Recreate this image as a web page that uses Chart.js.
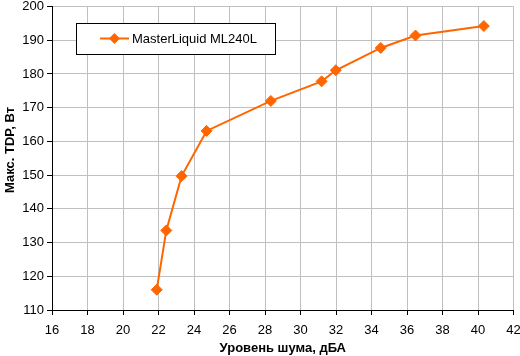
<!DOCTYPE html>
<html><head><meta charset="utf-8">
<script src="https://cdn.jsdelivr.net/npm/chart.js@4/dist/chart.umd.min.js"></script>
<style>html,body{margin:0;padding:0;background:#fff}#wrap{width:520px;height:356px}</style>
</head><body><div id="wrap"><canvas id="c" width="520" height="356"></canvas></div>
<script>
const seriesName = "MasterLiquid ML240L";
const noise = [21.9, 22.44, 23.3, 24.71, 28.33, 31.19, 31.99, 34.52, 36.48, 40.33];
const tdp = [116, 133.6, 149.7, 163.1, 172.0, 177.8, 181.1, 187.7, 191.4, 194.2];
const xTitle = "Уровень шума, дБА";
const yTitle = "Макс. TDP, Вт";
const xRange = [16, 42, 2];
const yRange = [110, 200, 10];
const orange = "#ff6600";
const FONT = '"Liberation Sans", Arial, sans-serif';

const extrasPlugin = {
  id: 'extras',
  afterDraw(chart) {
    const ctx = chart.ctx;
    ctx.save();
    // y axis title
    ctx.translate(10, 150);
    ctx.rotate(-Math.PI / 2);
    ctx.fillStyle = '#000';
    ctx.font = 'bold 13px ' + FONT;
    ctx.textAlign = 'center';
    ctx.textBaseline = 'middle';
    ctx.fillText(yTitle, 0, 0);
    ctx.restore();

    ctx.save();
    ctx.fillStyle = '#fff';
    ctx.fillRect(76, 23, 199, 31);
    ctx.strokeStyle = '#000';
    ctx.lineWidth = 1;
    ctx.strokeRect(76.5, 23.5, 199, 31);
    ctx.strokeStyle = orange;
    ctx.lineWidth = 2;
    ctx.beginPath(); ctx.moveTo(100, 38.5); ctx.lineTo(129, 38.5); ctx.stroke();
    ctx.fillStyle = orange;
    ctx.beginPath(); ctx.moveTo(114.5, 33); ctx.lineTo(120, 38.5); ctx.lineTo(114.5, 44); ctx.lineTo(109, 38.5); ctx.closePath(); ctx.fill();
    ctx.fillStyle = '#000';
    ctx.font = '13px ' + FONT;
    ctx.textBaseline = 'middle';
    ctx.fillText(seriesName, 132, 39);
    ctx.restore();
  }
};

new Chart(document.getElementById('c'), {
  type: 'line',
  data: {
    datasets: [{
      label: seriesName,
      data: noise.map((x, i) => ({x, y: tdp[i]})),
      borderColor: orange, backgroundColor: orange,
      borderWidth: 2, pointStyle: 'rectRot', pointRadius: 5.5, pointHoverRadius: 5.5,
      pointBorderWidth: 1,
      tension: 0, fill: false
    }]
  },
  options: {
    responsive: false, animation: false, devicePixelRatio: 1,
    layout: {padding: {top: 5, right: 6, left: 0, bottom: 0}},
    plugins: {legend: {display: false}, tooltip: {enabled: false}},
    scales: {
      x: {
        type: 'linear', min: xRange[0], max: xRange[1],
        ticks: {stepSize: xRange[2], color: '#000', padding: 8, maxRotation: 0,
          font: {family: FONT, size: 13}},
        grid: {color: '#c0c0c0', tickColor: '#000', tickLength: 5, lineWidth: 1},
        border: {color: '#000', width: 1},
        title: {display: true, text: xTitle, color: '#000', padding: {top: 0, bottom: 0},
          font: {family: FONT, size: 13, weight: 'bold'}},
        afterFit(s) { s.height = 46; s.paddingLeft = 0; s.paddingRight = 0; }
      },
      y: {
        min: yRange[0], max: yRange[1],
        ticks: {stepSize: yRange[2], color: '#000', padding: 3,
          font: {family: FONT, size: 13}},
        grid: {color: '#c0c0c0', tickColor: '#000', tickLength: 5, lineWidth: 1},
        border: {color: '#000', width: 1},
        title: {display: false, text: yTitle},
        afterFit(s) { s.width = 52; s.paddingTop = 0; s.paddingBottom = 0; }
      }
    }
  },
  plugins: [extrasPlugin]
});
</script></body></html>
